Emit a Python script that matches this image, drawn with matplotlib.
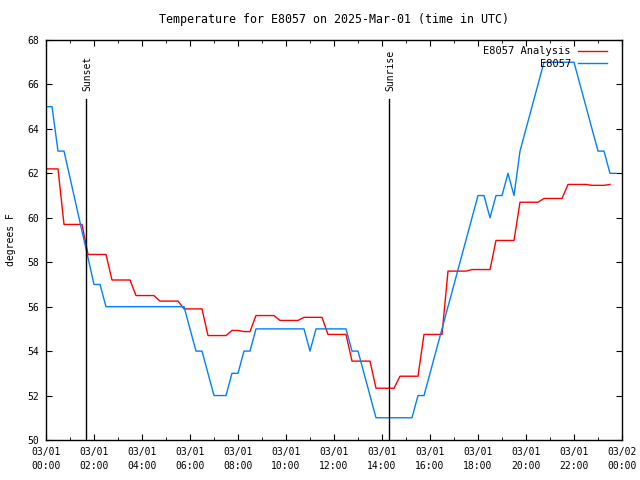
import numpy as np
import matplotlib
matplotlib.use('Agg')
import matplotlib.pyplot as plt
from matplotlib.ticker import MultipleLocator

plt.rcParams['font.family'] = ['DejaVu Sans Mono']
plt.rcParams['font.size'] = 7

# 站点实测温度 (小时, 华氏度)
obs_hours = [0, 0.25, 0.5, 0.75, 2.0, 2.25, 2.5, 5.75, 6.25, 6.5, 7.0, 7.5,
             7.75, 8.0, 8.25, 8.5, 8.75, 10.75, 11.0, 11.25, 12.5, 12.75,
             13.0, 13.75, 15.25, 15.5, 15.75, 18.0, 18.25, 18.5, 18.75,
             19.0, 19.25, 19.5, 19.75, 20.75, 22.0, 23.0, 23.25, 23.5, 23.75]
obs_temp = [65, 65, 63, 63, 57, 57, 56, 56, 54, 54, 52, 52,
            53, 53, 54, 54, 55, 55, 54, 55, 55, 54,
            54, 51, 51, 52, 52, 61, 61, 60, 61,
            61, 62, 61, 63, 67, 67, 63, 63, 62, 62]

# 分析场温度
ana_hours = [0, 0.5, 0.75, 1.5, 1.75, 2.5, 2.75, 3.5, 3.75, 4.5, 4.75, 5.5,
             5.75, 6.5, 6.75, 7.5, 7.75, 8.0, 8.25, 8.5, 8.75, 9.5, 9.75,
             10.5, 10.75, 11.5, 11.75, 12.5, 12.75, 13.5, 13.75, 14.5, 14.75,
             15.5, 15.75, 16.5, 16.75, 17.5, 17.75, 18.5, 18.75, 19.5, 19.75,
             20.5, 20.75, 21.5, 21.75, 22.5, 22.75, 23.25, 23.5]
ana_temp = [62.2, 62.2, 59.7, 59.7, 58.35, 58.35, 57.2, 57.2, 56.5, 56.5,
            56.25, 56.25, 55.9, 55.9, 54.7, 54.7, 54.93, 54.93, 54.88, 54.88,
            55.6, 55.6, 55.38, 55.38, 55.52, 55.52, 54.75, 54.75, 53.55,
            53.55, 52.33, 52.33, 52.87, 52.87, 54.75, 54.75, 57.6, 57.6,
            57.67, 57.67, 58.98, 58.98, 60.7, 60.7, 60.87, 60.87, 61.5, 61.5,
            61.46, 61.46, 61.5]

sunset_h = 1.68
sunrise_h = 14.3

tick_hours = list(range(0, 25, 2))
tick_labels = ['03/01\n%02d:00' % h for h in tick_hours[:-1]] + ['03/02\n00:00']

fig = plt.figure(figsize=(6.4, 4.8), dpi=100)
ax = fig.add_axes([46 / 640, 40 / 480, 576 / 640, 400 / 480])

ax.plot(ana_hours, ana_temp, color='#ff0000', lw=1, label='E8057 Analysis')
ax.plot(obs_hours, obs_temp, color='#0080ff', lw=1, label='E8057')

# 日落 / 日出
for h, name in [(sunset_h, 'Sunset'), (sunrise_h, 'Sunrise')]:
    ax.plot([h, h], [0, 0.8525], color='black', lw=1,
            transform=ax.get_xaxis_transform())
    ax.text(h + 0.04, 0.872, name, rotation=90, ha='center', va='bottom',
            transform=ax.get_xaxis_transform())

ax.set_xlim(0, 24)
ax.set_ylim(50, 68)
ax.set_xticks(tick_hours)
ax.set_xticklabels(tick_labels, linespacing=1.45)
ax.xaxis.set_minor_locator(MultipleLocator(1))
ax.yaxis.set_major_locator(MultipleLocator(2))
ax.tick_params(which='major', direction='in', length=4, top=True, right=True, pad=5)
ax.tick_params(which='minor', direction='in', length=2, top=True)
for s in ax.spines.values():
    s.set_linewidth(1)

ax.set_ylabel('degrees F', labelpad=8.5)
ax.set_title('Temperature for E8057 on 2025-Mar-01 (time in UTC)', pad=12)

ax.legend(loc='upper right', bbox_to_anchor=(1 - 9 / 576, 1), frameon=False,
          markerfirst=False, handlelength=2.8, handletextpad=0.65,
          borderaxespad=0.2, labelspacing=0.25, fontsize=7.5)

fig.savefig('out.png', dpi=100)
